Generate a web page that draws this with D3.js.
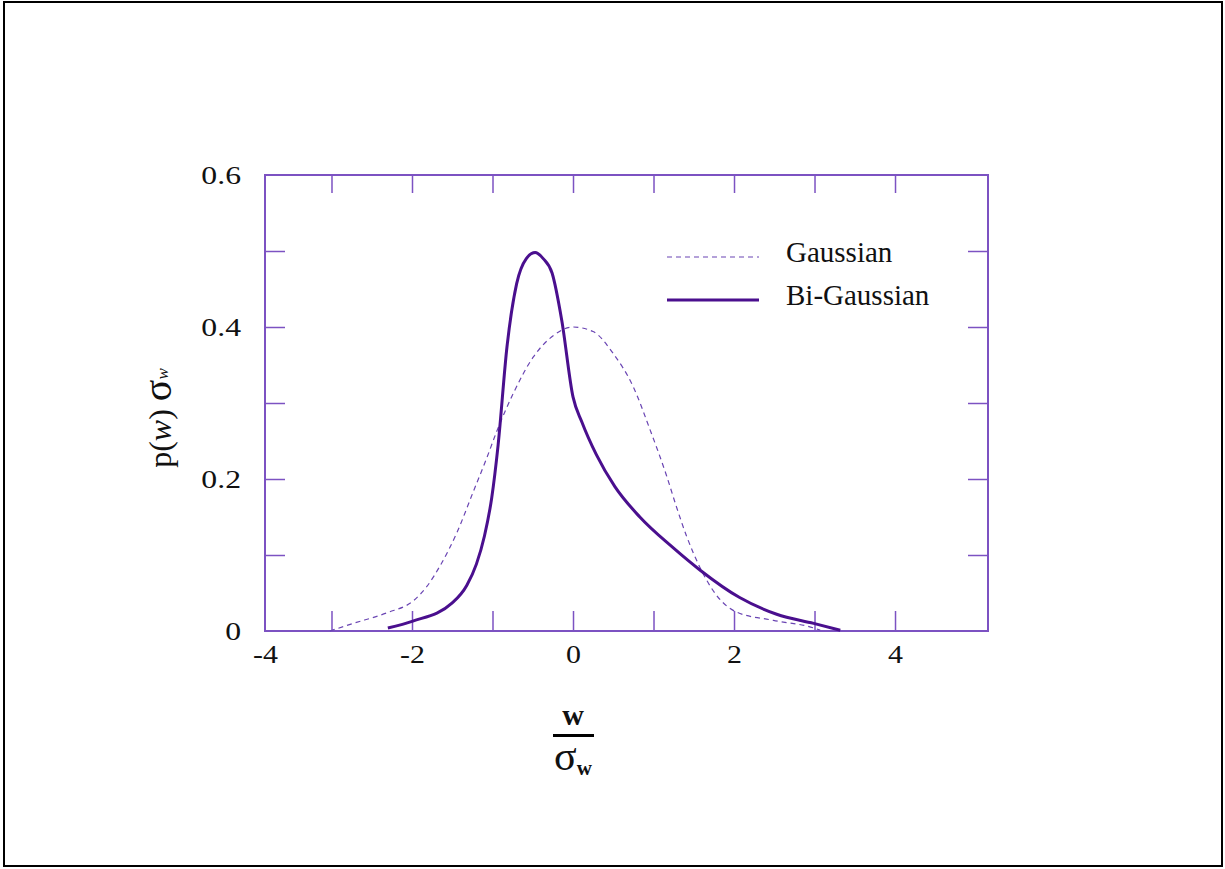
<!DOCTYPE html>
<html>
<head>
<meta charset="utf-8">
<script src="https://cdn.jsdelivr.net/npm/d3@7"></script>
<style>
body { margin: 0; background: #fff; }
text { font-family: "Liberation Serif", "DejaVu Serif", serif; fill: #111; }
</style>
</head>
<body>
<script>
const width = 1225, height = 869;

// values
const seriesNames = ["Gaussian", "Bi-Gaussian"];
const gaussX = [-3.02, -2.73, -2.31, -1.98, -1.82, -1.65, -1.44, -1.24, -1.07, -0.95, -0.74, -0.49, -0.24, 0.00, 0.25, 0.50, 0.75, 0.96, 1.16, 1.28, 1.41, 1.58, 1.79, 2.03, 2.49, 2.99, 3.07];
const gaussY = [0.000, 0.010, 0.024, 0.040, 0.058, 0.086, 0.130, 0.183, 0.228, 0.262, 0.313, 0.361, 0.389, 0.400, 0.394, 0.365, 0.321, 0.264, 0.205, 0.165, 0.125, 0.083, 0.046, 0.025, 0.014, 0.004, 0.001];
const biX = [-2.30, -1.99, -1.50, -1.32, -1.20, -1.10, -1.01, -0.93, -0.82, -0.70, -0.58, -0.47, -0.37, -0.26, -0.14, 0.00, 0.11, 0.29, 0.52, 0.83, 1.25, 1.58, 2.07, 2.53, 2.99, 3.32];
const biY = [0.004, 0.013, 0.037, 0.060, 0.088, 0.125, 0.175, 0.245, 0.374, 0.457, 0.490, 0.498, 0.490, 0.471, 0.409, 0.308, 0.275, 0.232, 0.190, 0.150, 0.109, 0.080, 0.044, 0.022, 0.010, 0.001];

const xTickLabels = [-4, -2, 0, 2, 4];
const xTickMarks = [-3, -2, -1, 0, 1, 2, 3, 4];
const yTickLabels = [0, 0.2, 0.4, 0.6];
const yTickMarks = [0.1, 0.2, 0.3, 0.4, 0.5];

const axisColor = "#7c52c2";
const lineColor = "#4a0f8e";
const dashColor = "#6a45b3";

const svg = d3.select("body")
    .append("svg")
    .attr("width", width)
    .attr("height", height);

// the source picture has slightly wide lettering
const stretch = (sel, k) => sel.each(function () {
    const w = this.getComputedTextLength();
    d3.select(this).attr("textLength", w * k).attr("lengthAdjust", "spacingAndGlyphs");
});

// outer frame
svg.append("rect")
    .attr("x", 4).attr("y", 2)
    .attr("width", 1218).attr("height", 864)
    .attr("fill", "none")
    .attr("stroke", "#000")
    .attr("stroke-width", 2);

const pLeft = 265, pRight = 988, pTop = 175, pBottom = 631;

// x axis starts a bit past -4, the -4 label sits on the left edge
const x = d3.scaleLinear()
    .domain([-3.826, 5.155])
    .range([pLeft, pRight])
    .clamp(true);

const y = d3.scaleLinear()
    .domain([0, 0.6])
    .range([pBottom, pTop]);

// tick marks, all pointing inward
const markAxis = (axis, tx, ty) => {
    const g = svg.append("g")
        .attr("transform", `translate(${tx},${ty})`)
        .call(axis);
    g.select(".domain").remove();
    g.selectAll("line").attr("stroke", axisColor).attr("stroke-width", 1.5);
    g.selectAll("text").remove();
};
markAxis(d3.axisBottom(x).tickValues(xTickMarks).tickSize(-20), 0, pBottom);
markAxis(d3.axisTop(x).tickValues(xTickMarks).tickSize(-18), 0, pTop);
markAxis(d3.axisLeft(y).tickValues(yTickMarks).tickSize(-20), pLeft, 0);
markAxis(d3.axisRight(y).tickValues(yTickMarks).tickSize(-20), pRight, 0);

svg.append("rect")
    .attr("x", pLeft).attr("y", pTop)
    .attr("width", pRight - pLeft).attr("height", pBottom - pTop)
    .attr("fill", "none")
    .attr("stroke", axisColor)
    .attr("stroke-width", 2);

// tick labels
const xLab = svg.append("g")
    .attr("transform", `translate(0,${pBottom})`)
    .call(d3.axisBottom(x).tickValues(xTickLabels).tickSize(0).tickPadding(14)
        .tickFormat(d => d < 0 ? "-" + Math.abs(d) : d));
xLab.select(".domain").remove();
xLab.selectAll("text").attr("font-size", 26).attr("font-family", "Liberation Serif").attr("fill", "#111")
    .call(stretch, 1.15);

const yLab = svg.append("g")
    .attr("transform", `translate(${pLeft},0)`)
    .call(d3.axisLeft(y).tickValues(yTickLabels).tickSize(0).tickPadding(24)
        .tickFormat(d => d === 0 ? "0" : d3.format(".1f")(d)));
yLab.select(".domain").remove();
yLab.selectAll("text").attr("font-size", 26).attr("font-family", "Liberation Serif").attr("fill", "#111")
    .call(stretch, 1.22);

// curves
const line = d3.line()
    .x(d => x(d[0]))
    .y(d => y(d[1]))
    .curve(d3.curveMonotoneX);

svg.append("path")
    .datum(gaussX.map((v, i) => [v, gaussY[i]]))
    .attr("d", line)
    .attr("fill", "none")
    .attr("stroke", dashColor)
    .attr("stroke-width", 1.2)
    .attr("stroke-dasharray", "5,4");

svg.append("path")
    .datum(biX.map((v, i) => [v, biY[i]]))
    .attr("d", line)
    .attr("fill", "none")
    .attr("stroke", lineColor)
    .attr("stroke-width", 3)
    .attr("stroke-linejoin", "round");

// legend
const legend = svg.append("g").attr("transform", "translate(667,257)");
seriesNames.forEach((name, i) => {
    const row = legend.append("g").attr("transform", `translate(0,${i * 43})`);
    row.append("line")
        .attr("x1", 0).attr("x2", 92)
        .attr("stroke", i === 0 ? dashColor : lineColor)
        .attr("stroke-width", i === 0 ? 1.2 : 3)
        .attr("stroke-dasharray", i === 0 ? "5,4" : null);
    row.append("text")
        .attr("x", 119).attr("y", 5)
        .attr("font-size", 29)
        .text(name);
});

// x title: w over sigma_w
const xt = svg.append("g").attr("transform", `translate(${x(0)},0)`);
xt.append("text")
    .attr("text-anchor", "middle")
    .attr("y", 725)
    .attr("font-size", 30)
    .attr("font-weight", "bold")
    .text("w");
xt.append("line")
    .attr("x1", -20).attr("x2", 21)
    .attr("y1", 735.5).attr("y2", 735.5)
    .attr("stroke", "#000")
    .attr("stroke-width", 3);
const st = xt.append("text")
    .attr("x", -19)
    .attr("y", 770)
    .attr("font-size", 42);
st.append("tspan").text("σ");
st.append("tspan").attr("font-size", 21).attr("font-weight", "bold").attr("dy", 5).text("w");

// y title: p(w) sigma_w
const yt = svg.append("text")
    .attr("transform", "translate(171,418) rotate(-90)")
    .attr("text-anchor", "middle")
    .attr("font-size", 32);
yt.append("tspan").text("p(");
yt.append("tspan").attr("font-style", "italic").text("w");
yt.append("tspan").text(") ");
yt.append("tspan").attr("font-size", 40).text("σ");
yt.append("tspan").attr("font-size", 17).attr("font-style", "italic").attr("dy", -3).text("w");
</script>
</body>
</html>
